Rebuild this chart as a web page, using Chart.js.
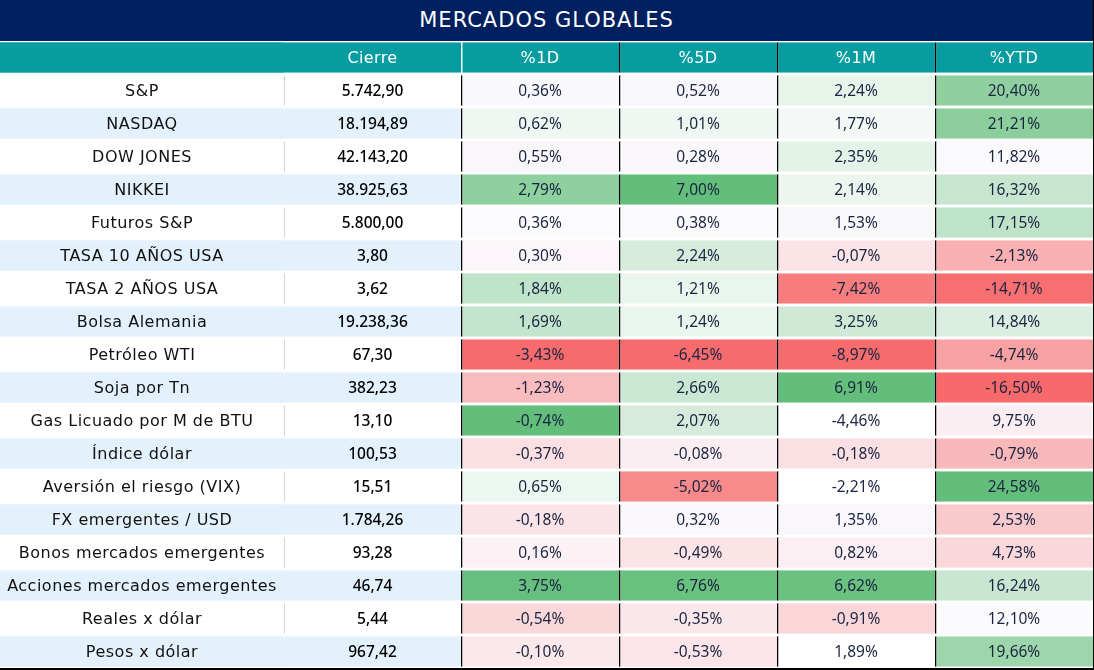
<!DOCTYPE html>
<html>
<head>
<meta charset="utf-8">
<script src="https://cdn.jsdelivr.net/npm/chart.js@4.4.1/dist/chart.umd.min.js"></script>
<style>
body { margin: 0; background: #fff; }
#page { width: 1093px; border-right: 1px solid #000; }
#title { height: 41px; line-height: 40px; background: #002060; color: #fff; text-align: center;
  font-family: "DejaVu Sans"; font-size: 21px; letter-spacing: 1px; }
#wrap { position: relative; width: 1093px; height: 627px; border-bottom: 2px solid #000; }
</style>
</head>
<body>
<div id="page">
<div id="title">MERCADOS GLOBALES</div>
<div id="wrap"><canvas id="table"></canvas></div>
</div>
<script>
var headers = ['', 'Cierre', '%1D', '%5D', '%1M', '%YTD'];
var rowNames = ['S&P', 'NASDAQ', 'DOW JONES', 'NIKKEI', 'Futuros S&P', 'TASA 10 AÑOS USA',
    'TASA 2 AÑOS USA', 'Bolsa Alemania', 'Petróleo WTI', 'Soja por Tn', 'Gas Licuado por M de BTU',
    'Índice dólar', 'Aversión el riesgo (VIX)', 'FX emergentes / USD', 'Bonos mercados emergentes',
    'Acciones mercados emergentes', 'Reales x dólar', 'Pesos x dólar'];
var closeValues = [5742.90, 18194.89, 42143.20, 38925.63, 5800.00, 3.80, 3.62, 19238.36, 67.30,
    382.23, 13.10, 100.53, 15.51, 1784.26, 93.28, 46.74, 5.44, 967.42];
var pct1D = [0.36, 0.62, 0.55, 2.79, 0.36, 0.30, 1.84, 1.69, -3.43, -1.23, -0.74, -0.37, 0.65,
    -0.18, 0.16, 3.75, -0.54, -0.10];
var pct5D = [0.52, 1.01, 0.28, 7.00, 0.38, 2.24, 1.21, 1.24, -6.45, 2.66, 2.07, -0.08, -5.02,
    0.32, -0.49, 6.76, -0.35, -0.53];
var pct1M = [2.24, 1.77, 2.35, 2.14, 1.53, -0.07, -7.42, 3.25, -8.97, 6.91, -4.46, -0.18, -2.21,
    1.35, 0.82, 6.62, -0.91, 1.89];
var pctYTD = [20.40, 21.21, 11.82, 16.32, 17.15, -2.13, -14.71, 14.84, -4.74, -16.50, 9.75, -0.79,
    24.58, 2.53, 4.73, 16.24, 12.10, 19.66];

// cell fills as they come out of the sheet's colour scale
var heat1D = ['#f9f9fd', '#eef7f1', '#faf7fa', '#8ed09e', '#fcfcff', '#fcf6fa', '#c0e4c9', '#c4e5cd',
    '#f86b6d', '#f9bcbe', '#63be7b', '#fbdfe2', '#edf7f1', '#fbe4e7', '#fcf1f4', '#66bf7e', '#fad8da', '#fbe8eb'];
var heat5D = ['#f8f8fc', '#eef7f1', '#faf7fa', '#63be7b', '#fbfafd', '#d5ecdc', '#eaf5ed', '#eaf5ed',
    '#f86b6d', '#c9e7d2', '#d5ecdd', '#fbeef2', '#f88a8c', '#faf8fc', '#fbe3e6', '#69c17f', '#fbe6e9', '#fbe5e8'];
var heat1M = ['#e6f4ea', '#f4f9f7', '#e4f3e8', '#ecf6ef', '#f9f9fc', '#fbe3e6', '#f87d7f', '#cfe9d7',
    '#f86b6d', '#63be7b', '#ffffff', '#fbe0e3', '#ffffff', '#f9f7fb', '#fbeff3', '#6ac180', '#fad6d9', '#ffffff'];
var heatYTD = ['#90d0a0', '#8ccf9c', '#fafafd', '#c6e6cf', '#bfe3c8', '#f8b0b2', '#f86f71', '#dbeee2',
    '#f8a1a3', '#f8696b', '#fbeef2', '#f8b8ba', '#63be7b', '#f9cacc', '#fad7da', '#c8e6d0', '#fbfbfe', '#9ed6ab'];

var colWidths = [284, 177, 158, 158, 158, 158];
var TEAL = '#069ca0';
var BLUE = '#e3f1fc';

function fmtNumber(v) {
    var s = Math.abs(v).toFixed(2).split('.');
    var intPart = s[0];
    var out = '';
    while (intPart.length > 3) {
        out = '.' + intPart.slice(-3) + out;
        intPart = intPart.slice(0, -3);
    }
    return (v < 0 ? '-' : '') + intPart + out + ',' + s[1];
}

var pctColumns = [null, null, pct1D, pct5D, pct1M, pctYTD];
var heatColumns = [null, null, heat1D, heat5D, heat1M, heatYTD];
var labels = [''].concat(rowNames);

function rowFill(j) {
    if (j === 0) return TEAL;
    return j % 2 === 0 ? BLUE : '#ffffff';
}

function makeDataset(i) {
    var widths = [];
    var fills = [];
    var borders = [];
    for (var j = 0; j < labels.length; j++) {
        widths.push(colWidths[i]);
        if (i < 2 || j === 0) {
            fills.push(rowFill(j));
        } else {
            fills.push(heatColumns[i][j - 1]);
        }
        if (i === 1) {
            // thin grey rule only on the white rows
            borders.push(j === 0 ? TEAL : (j % 2 === 0 ? BLUE : '#d4d4d4'));
        } else if (i === 2) {
            borders.push(j === 0 ? '#ffffff' : '#000000');
        } else {
            borders.push('#000000');
        }
    }
    return {
        data: widths,
        backgroundColor: fills,
        borderColor: borders,
        borderWidth: i === 0 ? 0 : {left: i === 1 ? 1 : 1.5, right: 0, top: 0, bottom: 0},
        borderSkipped: false,
        inflateAmount: 0,
        barPercentage: 0.93,
        categoryPercentage: 1
    };
}

function cellText(i, j) {
    if (j === 0) return headers[i];
    if (i === 0) return rowNames[j - 1];
    if (i === 1) return fmtNumber(closeValues[j - 1]);
    return fmtNumber(pctColumns[i][j - 1]) + '%';
}

var textPlugin = {
    id: 'cellText',
    afterDatasetsDraw: function(chart) {
        var ctx = chart.ctx;
        ctx.save();
        ctx.textAlign = 'center';
        ctx.textBaseline = 'middle';
        for (var i = 0; i < chart.data.datasets.length; i++) {
            var meta = chart.getDatasetMeta(i);
            for (var j = 0; j < meta.data.length; j++) {
                var bar = meta.data[j];
                var x = (bar.x + bar.base) / 2;
                var spacing = '0px';
                if (j === 0) {
                    ctx.fillStyle = '#ffffff';
                    ctx.font = '16px "DejaVu Sans"';
                    spacing = '0.4px';
                } else if (i === 0) {
                    ctx.fillStyle = '#111111';
                    ctx.font = '16px "DejaVu Sans"';
                    spacing = '0.5px';
                } else if (i === 1) {
                    ctx.fillStyle = '#000000';
                    ctx.font = '500 15.5px "Noto Sans"';
                } else {
                    ctx.fillStyle = '#1b2540';
                    ctx.font = '15.5px "Noto Sans"';
                }
                if ('letterSpacing' in ctx) ctx.letterSpacing = spacing;
                ctx.fillText(cellText(i, j), x, bar.y + 1);
            }
        }
        ctx.restore();
    }
};

var datasets = [];
for (var i = 0; i < colWidths.length; i++) {
    datasets.push(makeDataset(i));
}

var total = 0;
for (var i = 0; i < colWidths.length; i++) total += colWidths[i];

new Chart(document.getElementById('table'), {
    type: 'bar',
    data: { labels: labels, datasets: datasets },
    options: {
        indexAxis: 'y',
        responsive: true,
        maintainAspectRatio: false,
        animation: false,
        layout: { padding: 0 },
        plugins: { legend: { display: false }, tooltip: { enabled: false }, title: { display: false } },
        scales: {
            x: { type: 'linear', stacked: true, min: 0, max: total, display: false },
            y: { type: 'category', stacked: true, display: false, offset: true }
        }
    },
    plugins: [textPlugin]
});
</script>
</body>
</html>
